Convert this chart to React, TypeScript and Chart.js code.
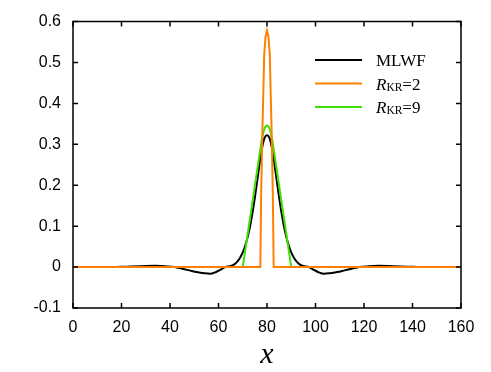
import React, { useEffect, useRef } from "react";
import { Chart, registerables } from "chart.js";

Chart.register(...registerables);

// ---- data ----
const xTickValues = [0, 20, 40, 60, 80, 100, 120, 140, 160];
const yTickValues = [-0.1, 0, 0.1, 0.2, 0.3, 0.4, 0.5, 0.6];

const seriesLabels = ["MLWF", "R_KR=2", "R_KR=9"];
const seriesColors = ["#000000", "#ff8000", "#40e000"];

const mlwfX = [0, 16, 22, 28, 34, 38, 42, 45, 48, 51, 54, 56.5, 59, 61, 62.7, 64.5, 66, 67, 68, 69, 70, 71, 72, 73, 74, 75, 76, 77, 78, 79, 80,
  81, 82, 83, 84, 85, 86, 87, 88, 89, 90, 91, 92, 93, 94, 95.5, 97.3, 99, 101, 103.5, 106, 109, 112, 115, 118, 122, 126, 132, 138, 144, 160];
const mlwfY = [0, 0, 0.001, 0.002, 0.003, 0.002, 0, -0.004, -0.008, -0.012, -0.015, -0.0165, -0.012, -0.006, 0, 0.002, 0.005, 0.009, 0.015, 0.024, 0.036, 0.052, 0.073, 0.099, 0.132, 0.17, 0.212, 0.255, 0.292, 0.316, 0.322,
  0.316, 0.292, 0.255, 0.212, 0.17, 0.132, 0.099, 0.073, 0.052, 0.036, 0.024, 0.015, 0.009, 0.005, 0.002, 0, -0.006, -0.012, -0.0165, -0.015, -0.012, -0.008, -0.004, 0, 0.002, 0.003, 0.002, 0.001, 0, 0];

const kr2X = [0, 77.25, 77.6, 78.1, 78.5, 78.85, 79.4, 80, 80.6, 81.15, 81.5, 81.9, 82.4, 82.75, 160];
const kr2Y = [0, 0, 0.18, 0.334, 0.43, 0.52, 0.563, 0.578, 0.563, 0.52, 0.43, 0.334, 0.18, 0, 0];

const kr9X = [0, 70, 77.8, 78.6, 79.3, 80, 80.7, 81.4, 82.2, 90, 160];
const kr9Y = [0, 0, 0.31, 0.332, 0.343, 0.346, 0.343, 0.332, 0.31, 0, 0];

const xTitle = "x";

const toPts = (xs: number[], ys: number[]) => xs.map((x, i) => ({ x, y: ys[i] }));

const framePlugin = {
  id: "frameTicks",
  afterDatasetsDraw(chart: any) {
    const { ctx, chartArea } = chart;
    const { left, right, top, bottom } = chartArea;
    const xs = chart.scales.x;
    const ys = chart.scales.y;
    const tl = 5;
    ctx.save();
    ctx.strokeStyle = "#000";
    ctx.lineWidth = 1.5;
    ctx.beginPath();
    ctx.rect(left, top, right - left, bottom - top);
    ctx.stroke();
    ctx.beginPath();
    xTickValues.forEach((v) => {
      const px = xs.getPixelForValue(v);
      ctx.moveTo(px, bottom);
      ctx.lineTo(px, bottom - tl);
      ctx.moveTo(px, top);
      ctx.lineTo(px, top + tl);
    });
    yTickValues.forEach((v) => {
      const py = ys.getPixelForValue(v);
      ctx.moveTo(left, py);
      ctx.lineTo(left + tl, py);
      ctx.moveTo(right, py);
      ctx.lineTo(right - tl, py);
    });
    ctx.stroke();
    ctx.restore();
  },
  afterDraw(chart: any) {
    const { ctx, chartArea } = chart;
    ctx.save();
    // x-axis title
    ctx.fillStyle = "#000";
    ctx.font = "italic 30px 'Liberation Serif'";
    ctx.textAlign = "center";
    ctx.textBaseline = "alphabetic";
    ctx.fillText(xTitle, (chartArea.left + chartArea.right) / 2, 363);

    // legend
    const rows = [60, 83.5, 107];
    seriesLabels.forEach((lab, i) => {
      const y = rows[i];
      ctx.strokeStyle = seriesColors[i];
      ctx.lineWidth = 2;
      ctx.beginPath();
      ctx.moveTo(315, y);
      ctx.lineTo(362, y);
      ctx.stroke();
      ctx.fillStyle = "#000";
      ctx.textAlign = "left";
      ctx.textBaseline = "alphabetic";
      const base = y + 6;
      let x = 376;
      if (lab.startsWith("R_")) {
        const rest = lab.slice(2);
        const eq = rest.indexOf("=");
        const sub = rest.slice(0, eq);
        const tail = rest.slice(eq);
        ctx.font = "italic 17px 'Liberation Serif'";
        ctx.fillText("R", x, base);
        x += ctx.measureText("R").width;
        ctx.font = "11.5px 'Liberation Serif'";
        ctx.fillText(sub, x, base + 1);
        x += ctx.measureText(sub).width;
        ctx.font = "17px 'Liberation Serif'";
        ctx.fillText(tail, x, base);
      } else {
        ctx.font = "17px 'Liberation Serif'";
        ctx.fillText(lab, x, base);
      }
    });
    ctx.restore();
  },
};

export default function App() {
  const ref = useRef<HTMLCanvasElement | null>(null);
  useEffect(() => {
    if (!ref.current) return;
    const chart = new Chart(ref.current, {
      type: "line",
      data: {
        datasets: [
          {
            label: seriesLabels[0],
            data: toPts(mlwfX, mlwfY),
            borderColor: seriesColors[0],
            borderWidth: 2,
            pointRadius: 0,
            cubicInterpolationMode: "monotone",
            order: 3,
          },
          {
            label: seriesLabels[1],
            data: toPts(kr2X, kr2Y),
            borderColor: seriesColors[1],
            borderWidth: 2,
            pointRadius: 0,
            tension: 0,
            order: 1,
          },
          {
            label: seriesLabels[2],
            data: toPts(kr9X, kr9Y),
            borderColor: seriesColors[2],
            borderWidth: 2,
            pointRadius: 0,
            tension: 0,
            order: 2,
          },
        ],
      },
      options: {
        animation: false,
        responsive: false,
        events: [],
        layout: { padding: { top: 21, right: 30, left: 0, bottom: 0 } },
        plugins: { legend: { display: false }, tooltip: { enabled: false } },
        scales: {
          x: {
            type: "linear",
            min: 0,
            max: 160,
            afterBuildTicks: (s: any) => {
              s.ticks = xTickValues.map((v) => ({ value: v }));
            },
            afterFit: (s: any) => {
              s.height = 64;
            },
            grid: { display: false, drawTicks: false },
            border: { display: false },
            ticks: {
              padding: 10,
              color: "#000",
              font: { family: "'Liberation Sans'", size: 16 },
              callback: (v: any) => String(v),
            },
          },
          y: {
            type: "linear",
            min: -0.1,
            max: 0.6,
            afterBuildTicks: (s: any) => {
              s.ticks = yTickValues.map((v) => ({ value: v }));
            },
            afterFit: (s: any) => {
              s.width = 73;
            },
            grid: { display: false, drawTicks: false },
            border: { display: false },
            ticks: {
              padding: 12,
              color: "#000",
              font: { family: "'Liberation Sans'", size: 16 },
              callback: (v: any) => String(Number(Number(v).toFixed(1))),
            },
          },
        },
      },
      plugins: [framePlugin],
    } as any);
    return () => chart.destroy();
  }, []);
  return (
    <div style={{ position: "absolute", left: 0, top: 0, width: 491, height: 372 }}>
      <canvas ref={ref} width={491} height={372} />
    </div>
  );
}
